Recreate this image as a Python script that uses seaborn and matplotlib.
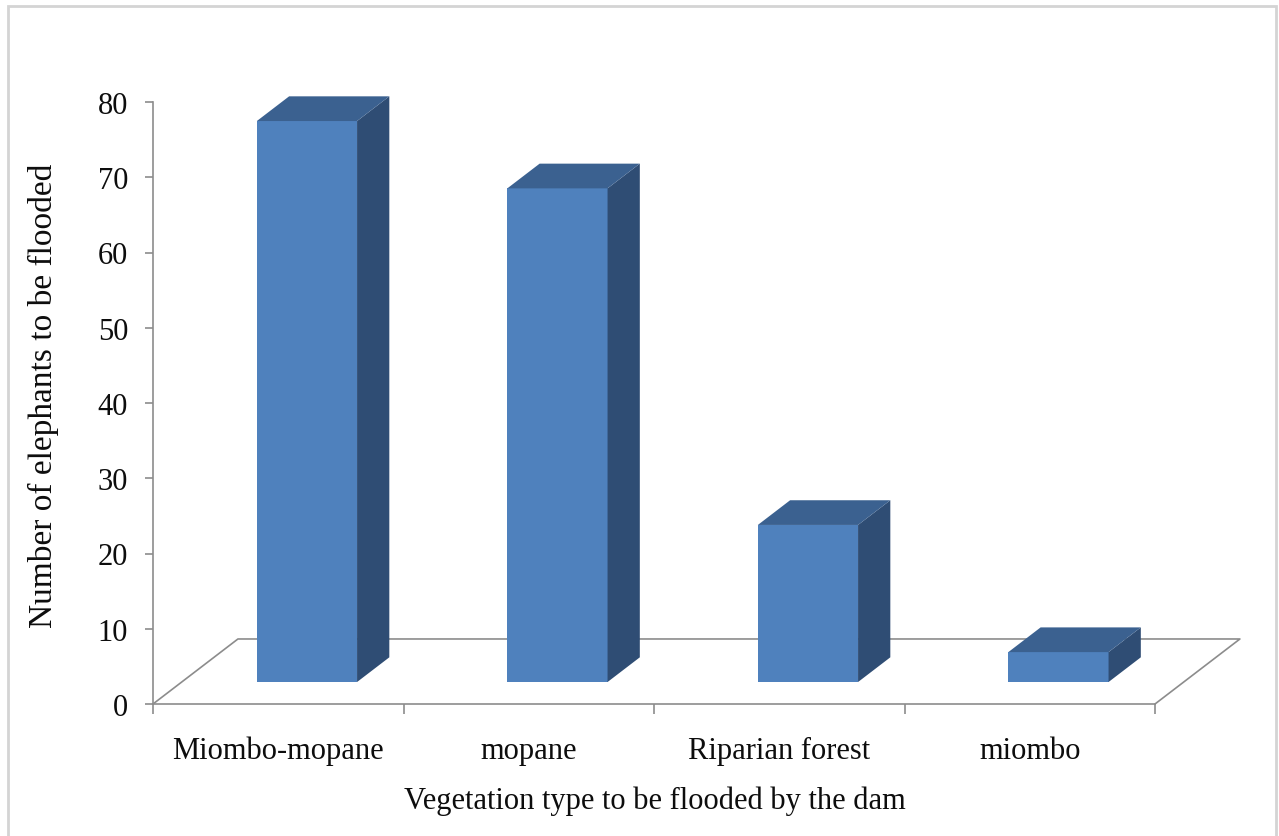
import numpy as np
import pandas as pd
import matplotlib
matplotlib.use("Agg")
import matplotlib.pyplot as plt
from matplotlib.patches import Polygon, Rectangle
import seaborn as sns

# Data
categories = ["Miombo-mopane", "mopane", "Riparian forest", "miombo"]
elephants = [75, 66, 21, 4]
y_ticks = [0, 10, 20, 30, 40, 50, 60, 70, 80]

df = pd.DataFrame({"vegetation": categories, "elephants": elephants})

# Colours of the three visible faces of each column
FRONT = "#4f81bd"
TOP = "#3b6190"
SIDE = "#2f4d74"
AXIS_GREY = "#8c8c8c"
TEXT = "#0d0d0d"

sns.set_theme(style="white")
plt.rcParams["font.family"] = ["Liberation Serif", "DejaVu Serif"]

fig = plt.figure(figsize=(12.79, 8.37), dpi=100)
ax = fig.add_axes([153 / 1279, 1 - 705 / 837, 1002 / 1279, 602 / 837])

BAR_W = 0.4
sns.barplot(data=df, x="vegetation", y="elephants", color=FRONT,
            saturation=1, width=BAR_W, ax=ax, zorder=3)

ax.set_xlim(-0.5, 3.5)
ax.set_ylim(0, 80)

# Depth of the floor (data units) and placement of the columns within it
floor_dx, floor_dy = 0.339, 8.64
front_frac, depth_frac = 0.338, 0.38
off_x, off_y = floor_dx * front_frac, floor_dy * front_frac
col_dx, col_dy = floor_dx * depth_frac, floor_dy * depth_frac
# slight perspective shrink of the value scale on the columns' front plane
persp = 0.994

for bar in ax.patches:
    bar.set_x(bar.get_x() + off_x)
    bar.set_y(off_y)
    bar.set_height(bar.get_height() * persp)
    bar.set_linewidth(0)
    bar.set_clip_on(False)
    x0 = bar.get_x()
    x1 = x0 + bar.get_width()
    y0 = bar.get_y()
    y1 = y0 + bar.get_height()
    side = Polygon([(x1, y0), (x1 + col_dx, y0 + col_dy),
                    (x1 + col_dx, y1 + col_dy), (x1, y1)],
                   closed=True, facecolor=SIDE, edgecolor="none",
                   zorder=3, clip_on=False)
    top = Polygon([(x0, y1), (x1, y1), (x1 + col_dx, y1 + col_dy),
                   (x0 + col_dx, y1 + col_dy)],
                  closed=True, facecolor=TOP, edgecolor="none",
                  zorder=3, clip_on=False)
    ax.add_patch(side)
    ax.add_patch(top)

# Floor outline
xl, xr = ax.get_xlim()
ax.plot([xl, xl + floor_dx, xr + floor_dx, xr], [0, floor_dy, floor_dy, 0],
        color=AXIS_GREY, lw=1.2, zorder=1, clip_on=False)

# Axes styling
for name in ["top", "right"]:
    ax.spines[name].set_visible(False)
for name in ["left", "bottom"]:
    ax.spines[name].set_color(AXIS_GREY)
    ax.spines[name].set_linewidth(1.2)

ax.set_yticks(y_ticks)
ax.tick_params(axis="y", which="major", direction="out", length=6,
               width=1.2, color=AXIS_GREY, labelsize=22, pad=12,
               labelcolor=TEXT, left=True)
ax.set_xticks(range(len(categories)))
ax.set_xticklabels(categories)
ax.set_xticks([i - 0.5 for i in range(len(categories) + 1)], minor=True)
ax.tick_params(axis="x", which="major", length=0, labelsize=22, pad=23,
               labelcolor=TEXT)
ax.tick_params(axis="x", which="minor", direction="out", length=7,
               width=1.2, color=AXIS_GREY, bottom=True)

ax.set_xlabel("Vegetation type to be flooded by the dam", fontsize=22,
              color=TEXT)
ax.set_ylabel("Number of elephants to be flooded", fontsize=24,
              color=TEXT)
ax.xaxis.set_label_coords(0.501, -0.135)
ax.yaxis.set_label_coords(-0.094, 0.513)

# Chart frame
fig.patches.append(Rectangle((8 / 1279, -0.02), 1268 / 1279, 1.02 - 7 / 837,
                             transform=fig.transFigure, fill=False,
                             edgecolor="#d4d4d4", lw=2))

fig.savefig("out.png", dpi=100)
